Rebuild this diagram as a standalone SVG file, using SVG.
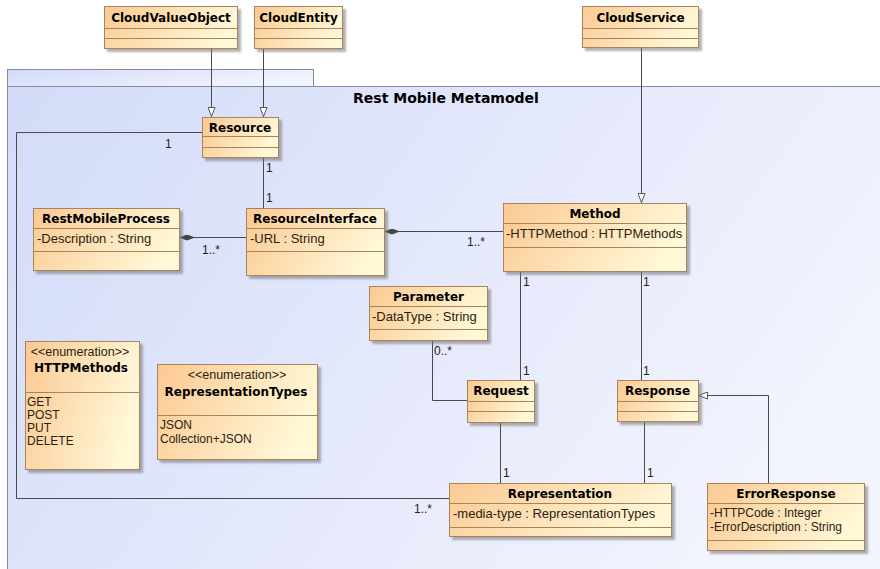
<svg xmlns="http://www.w3.org/2000/svg" width="880" height="569" viewBox="0 0 880 569">
<defs>
<linearGradient id="cg" x1="0" y1="0" x2="1" y2="0.3">
<stop offset="0" stop-color="#FBC992"/>
<stop offset="1" stop-color="#FFF7D6"/>
</linearGradient>
<linearGradient id="pg" x1="0" y1="0" x2="1" y2="0.4">
<stop offset="0" stop-color="#D3DBF8"/>
<stop offset="1" stop-color="#F1F3FD"/>
</linearGradient>
<filter id="sh" x="-10%" y="-10%" width="130%" height="140%">
<feDropShadow dx="3" dy="3" stdDeviation="1.2" flood-color="#707070" flood-opacity="0.55"/>
</filter>
<marker id="gen" viewBox="0 0 10 8" refX="10" refY="4" markerWidth="10" markerHeight="8" markerUnits="userSpaceOnUse" orient="auto">
<path d="M0.5,0.5 L9.5,4 L0.5,7.5 Z" fill="#ffffff" stroke="#555" stroke-width="1"/>
</marker>
<marker id="comp" viewBox="0 0 16 6" refX="0" refY="3" markerWidth="16" markerHeight="6" markerUnits="userSpaceOnUse" orient="auto">
<path d="M0,3 L8,0 L16,3 L8,6 Z" fill="#444"/>
</marker>
<style>
.box{fill:url(#cg);stroke:#A8845C;stroke-width:1;filter:url(#sh)}
.sep{stroke:#A8845C;stroke-width:1}
.nm{font-family:"DejaVu Sans",Verdana,sans-serif;font-weight:bold;font-size:12px;fill:#000;text-anchor:middle}
.at{font-family:"Liberation Sans",Arial,sans-serif;font-size:13px;fill:#2a1e12}
.li{font-family:"Liberation Sans",Arial,sans-serif;font-size:12px;fill:#2a1e12}
.st{font-family:"Liberation Sans",Arial,sans-serif;font-size:12.5px;fill:#2a1e12;text-anchor:middle}
.ml{font-family:"Liberation Sans",Arial,sans-serif;font-size:12px;fill:#222}
.cn{fill:none;stroke:#4a4a4a;stroke-width:1}
.pk{fill:url(#pg);stroke:#848CA4;stroke-width:1}
.pt{font-family:"DejaVu Sans",Verdana,sans-serif;font-weight:bold;font-size:14px;fill:#000;text-anchor:middle}
</style>
</defs>
<rect x="0" y="0" width="880" height="569" fill="#ffffff"/>

<g id="package">
<rect class="pk" x="7.5" y="69.5" width="306" height="17"/>
<rect class="pk" x="7.5" y="86.5" width="880" height="500"/>
<text class="pt" x="446" y="103">Rest Mobile Metamodel</text>
</g>

<g id="connectors">
<path class="cn" d="M211.5,48 V117" marker-end="url(#gen)"/>
<path class="cn" d="M263.5,48 V117" marker-end="url(#gen)"/>
<path class="cn" d="M641.5,47 V203" marker-end="url(#gen)"/>
<path class="cn" d="M263.5,157 V208"/>
<path class="cn" d="M202,132.5 H16.5 V498.5 H449"/>
<path class="cn" d="M179,237.5 H246" marker-start="url(#comp)"/>
<path class="cn" d="M384,231.5 H503" marker-start="url(#comp)"/>
<path class="cn" d="M520.5,271 V380"/>
<path class="cn" d="M641.5,271 V380"/>
<path class="cn" d="M467,400.5 H432.5 V340"/>
<path class="cn" d="M500.5,422 V483"/>
<path class="cn" d="M644.5,421 V483"/>
<path class="cn" d="M768.5,483 V395.5 H698" marker-end="url(#gen)"/>
<text class="ml" x="165" y="148">1</text>
<text class="ml" x="266" y="172">1</text>
<text class="ml" x="266" y="202">1</text>
<text class="ml" x="202" y="254">1..*</text>
<text class="ml" x="467" y="246">1..*</text>
<text class="ml" x="523" y="286">1</text>
<text class="ml" x="643" y="286">1</text>
<text class="ml" x="523" y="375">1</text>
<text class="ml" x="643" y="375">1</text>
<text class="ml" x="434" y="355">0..*</text>
<text class="ml" x="503" y="477">1</text>
<text class="ml" x="647" y="477">1</text>
<text class="ml" x="414" y="513">1..*</text>
</g>

<g id="CloudValueObject">
<rect class="box" x="104.5" y="6.5" width="133" height="42"/>
<line class="sep" x1="104.5" y1="28.5" x2="237.5" y2="28.5"/>
<line class="sep" x1="104.5" y1="38.5" x2="237.5" y2="38.5"/>
<text class="nm" x="171" y="22">CloudValueObject</text>
</g>

<g id="CloudEntity">
<rect class="box" x="254.5" y="6.5" width="88" height="42"/>
<line class="sep" x1="254.5" y1="28.5" x2="342.5" y2="28.5"/>
<line class="sep" x1="254.5" y1="38.5" x2="342.5" y2="38.5"/>
<text class="nm" x="298.5" y="22">CloudEntity</text>
</g>

<g id="CloudService">
<rect class="box" x="582.5" y="6.5" width="116" height="41"/>
<line class="sep" x1="582.5" y1="28.5" x2="698.5" y2="28.5"/>
<line class="sep" x1="582.5" y1="38.5" x2="698.5" y2="38.5"/>
<text class="nm" x="640.5" y="22">CloudService</text>
</g>

<g id="Resource">
<rect class="box" x="202.5" y="117.5" width="76" height="40"/>
<line class="sep" x1="202.5" y1="136.5" x2="278.5" y2="136.5"/>
<line class="sep" x1="202.5" y1="147.5" x2="278.5" y2="147.5"/>
<text class="nm" x="240" y="132">Resource</text>
</g>

<g id="RestMobileProcess">
<rect class="box" x="33.5" y="208.5" width="146" height="62"/>
<line class="sep" x1="33.5" y1="228.5" x2="179.5" y2="228.5"/>
<line class="sep" x1="33.5" y1="251.5" x2="179.5" y2="251.5"/>
<text class="nm" x="106" y="223">RestMobileProcess</text>
<text class="at" x="37" y="243">-Description : String</text>
</g>

<g id="ResourceInterface">
<rect class="box" x="246.5" y="208.5" width="138" height="67"/>
<line class="sep" x1="246.5" y1="228.5" x2="384.5" y2="228.5"/>
<line class="sep" x1="246.5" y1="251.5" x2="384.5" y2="251.5"/>
<text class="nm" x="315" y="223">ResourceInterface</text>
<text class="at" x="250" y="243">-URL : String</text>
</g>

<g id="Method">
<rect class="box" x="503.5" y="203.5" width="183" height="68"/>
<line class="sep" x1="503.5" y1="223.5" x2="686.5" y2="223.5"/>
<line class="sep" x1="503.5" y1="247.5" x2="686.5" y2="247.5"/>
<text class="nm" x="595" y="218">Method</text>
<text class="at" x="506" y="238">-HTTPMethod : HTTPMethods</text>
</g>

<g id="Parameter">
<rect class="box" x="369.5" y="286.5" width="118" height="54"/>
<line class="sep" x1="369.5" y1="306.5" x2="487.5" y2="306.5"/>
<line class="sep" x1="369.5" y1="329.5" x2="487.5" y2="329.5"/>
<text class="nm" x="428.5" y="301">Parameter</text>
<text class="at" x="372" y="321">-DataType : String</text>
</g>

<g id="Request">
<rect class="box" x="467.5" y="380.5" width="67" height="42"/>
<line class="sep" x1="467.5" y1="401.5" x2="534.5" y2="401.5"/>
<line class="sep" x1="467.5" y1="411.5" x2="534.5" y2="411.5"/>
<text class="nm" x="501" y="395">Request</text>
</g>

<g id="Response">
<rect class="box" x="617.5" y="380.5" width="81" height="41"/>
<line class="sep" x1="617.5" y1="401.5" x2="698.5" y2="401.5"/>
<line class="sep" x1="617.5" y1="411.5" x2="698.5" y2="411.5"/>
<text class="nm" x="657.5" y="395">Response</text>
</g>

<g id="HTTPMethods">
<rect class="box" x="25.5" y="341.5" width="114" height="128"/>
<line class="sep" x1="25.5" y1="392.5" x2="139.5" y2="392.5"/>
<text class="st" x="80" y="356">&lt;&lt;enumeration&gt;&gt;</text>
<text class="nm" x="81" y="372">HTTPMethods</text>
<text class="li" x="27" y="406">GET</text>
<text class="li" x="27" y="419">POST</text>
<text class="li" x="27" y="432">PUT</text>
<text class="li" x="27" y="445">DELETE</text>
</g>

<g id="RepresentationTypes">
<rect class="box" x="157.5" y="364.5" width="160" height="95"/>
<line class="sep" x1="157.5" y1="415.5" x2="317.5" y2="415.5"/>
<text class="st" x="237" y="379">&lt;&lt;enumeration&gt;&gt;</text>
<text class="nm" x="236" y="396">RepresentationTypes</text>
<text class="li" x="160" y="429">JSON</text>
<text class="li" x="160" y="443">Collection+JSON</text>
</g>

<g id="Representation">
<rect class="box" x="449.5" y="483.5" width="222" height="53"/>
<line class="sep" x1="449.5" y1="503.5" x2="671.5" y2="503.5"/>
<line class="sep" x1="449.5" y1="527.5" x2="671.5" y2="527.5"/>
<text class="nm" x="560" y="498">Representation</text>
<text class="at" x="453" y="518">-media-type : RepresentationTypes</text>
</g>

<g id="ErrorResponse">
<rect class="box" x="707.5" y="483.5" width="157" height="67"/>
<line class="sep" x1="707.5" y1="503.5" x2="864.5" y2="503.5"/>
<line class="sep" x1="707.5" y1="540.5" x2="864.5" y2="540.5"/>
<text class="nm" x="786" y="498">ErrorResponse</text>
<text class="li" x="710" y="517">-HTTPCode : Integer</text>
<text class="li" x="710" y="531">-ErrorDescription : String</text>
</g>
</svg>
